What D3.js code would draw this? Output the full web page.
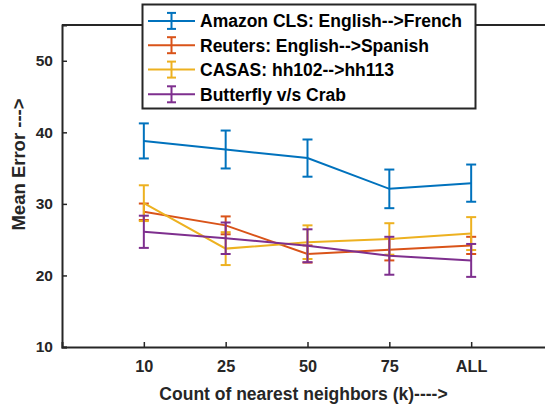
<!DOCTYPE html>
<html><head><meta charset="utf-8">
<script src="https://cdn.jsdelivr.net/npm/d3@7"></script>
<style>body{margin:0;background:#fff}svg{display:block}text{font-family:"Liberation Sans",Arial,sans-serif;font-weight:bold;fill:#262626}</style>
</head><body>
<script>
const categories = ["10","25","50","75","ALL"];
const seriesNames = ["Amazon CLS: English-->French","Reuters: English-->Spanish","CASAS: hh102-->hh113","Butterfly v/s Crab"];
const amazonMean = [38.8, 37.6, 36.4, 32.1, 32.9];
const amazonErr  = [2.45, 2.65, 2.6, 2.7, 2.6];
const reutersMean = [28.9, 27.0, 23.0, 23.6, 24.2];
const reutersErr  = [1.15, 1.25, 1.2, 1.5, 1.2];
const casasMean = [30.1, 23.75, 24.65, 25.1, 25.85];
const casasErr  = [2.5, 2.3, 2.35, 2.2, 2.3];
const butterflyMean = [26.1, 25.2, 24.15, 22.75, 22.1];
const butterflyErr  = [2.25, 2.2, 2.3, 2.65, 2.3];
const yTicks = [10,20,30,40,50];
const colors = ["#0072BD","#D95319","#EDB120","#7E2F8E"];

const series = [
  {name: seriesNames[0], mean: amazonMean, err: amazonErr},
  {name: seriesNames[1], mean: reutersMean, err: reutersErr},
  {name: seriesNames[2], mean: casasMean, err: casasErr},
  {name: seriesNames[3], mean: butterflyMean, err: butterflyErr}
];

const W = 545, H = 406;
const L = 62, T = 25, R = 553, B = 347;
const svg = d3.select("body").append("svg").attr("width", W).attr("height", H);

const x = d3.scaleLinear().domain([0, categories.length + 1]).range([L, R]);
const y = d3.scaleLinear().domain([10, 55]).range([B, T]);
const axisColor = "#262626";
const FONT = '"Liberation Sans",Arial,sans-serif';

// series
series.forEach((s, si) => {
  const g = svg.append("g");
  const pts = s.mean.map((m, i) => ({x: i + 1, m, e: s.err[i]}));
  g.append("path").datum(pts)
    .attr("d", d3.line().x(d => x(d.x)).y(d => y(d.m)))
    .attr("fill", "none").attr("stroke", colors[si]).attr("stroke-width", 2);
  const eb = g.selectAll("g.eb").data(pts).enter().append("g");
  eb.append("line").attr("x1", d => x(d.x)).attr("x2", d => x(d.x))
    .attr("y1", d => y(d.m - d.e)).attr("y2", d => y(d.m + d.e))
    .attr("stroke", colors[si]).attr("stroke-width", 2);
  [-1, 1].forEach(sg => {
    eb.append("line").attr("x1", d => x(d.x) - 5).attr("x2", d => x(d.x) + 5)
      .attr("y1", d => y(d.m + sg * d.e)).attr("y2", d => y(d.m + sg * d.e))
      .attr("stroke", colors[si]).attr("stroke-width", 2);
  });
});

// axes
const yAxis = d3.axisLeft(y).tickValues(yTicks).tickSize(-5).tickPadding(9);
const gy = svg.append("g").attr("transform", `translate(${L},0)`).call(yAxis);
const xAxis = d3.axisBottom(x).tickValues(d3.range(1, categories.length + 1))
  .tickFormat(d => categories[d - 1]).tickSize(-5).tickPadding(13);
const gx = svg.append("g").attr("transform", `translate(0,${B})`).call(xAxis);
[gx, gy].forEach(g => {
  g.select(".domain").attr("stroke", axisColor).attr("stroke-width", 2);
  g.selectAll(".tick line").attr("stroke", axisColor).attr("stroke-width", 1.5);
});
gx.selectAll(".tick text").style("font-size", "16.3px").style("font-family", FONT)
  .style("font-weight", "bold").attr("fill", axisColor);
gy.selectAll(".tick text").style("font-size", "15.5px").style("font-family", FONT)
  .style("font-weight", "bold").attr("fill", axisColor);
// top line
svg.append("line").attr("x1", L).attr("x2", R).attr("y1", T).attr("y2", T)
  .attr("stroke", axisColor).attr("stroke-width", 2);

// axis titles
svg.append("text").attr("x", 303.5).attr("y", 400).attr("text-anchor", "middle")
  .style("font-size", "17.5px").text("Count of nearest neighbors (k)---->");
svg.append("text").attr("transform", "translate(25,164.5) rotate(-90)").attr("text-anchor", "middle")
  .style("font-size", "18.5px").text("Mean Error --->");

// legend
const lg = svg.append("g");
lg.append("rect").attr("x", 142.5).attr("y", 4.5).attr("width", 333).attr("height", 104)
  .attr("fill", "#fff").attr("stroke", axisColor).attr("stroke-width", 2);
const rowY = [20.9, 45.2, 69.6, 94.3];
series.forEach((s, i) => {
  const yy = rowY[i];
  lg.append("line").attr("x1", 148).attr("x2", 195).attr("y1", yy).attr("y2", yy)
    .attr("stroke", colors[i]).attr("stroke-width", 2);
  lg.append("line").attr("x1", 171.5).attr("x2", 171.5).attr("y1", yy - 8).attr("y2", yy + 8)
    .attr("stroke", colors[i]).attr("stroke-width", 2);
  [-8, 8].forEach(o => lg.append("line").attr("x1", 167).attr("x2", 176).attr("y1", yy + o).attr("y2", yy + o)
    .attr("stroke", colors[i]).attr("stroke-width", 2));
  lg.append("text").attr("x", 200).attr("y", yy + 6.3).style("font-size", "17.5px").style("fill", "#000").text(s.name);
});
</script>
</body></html>
